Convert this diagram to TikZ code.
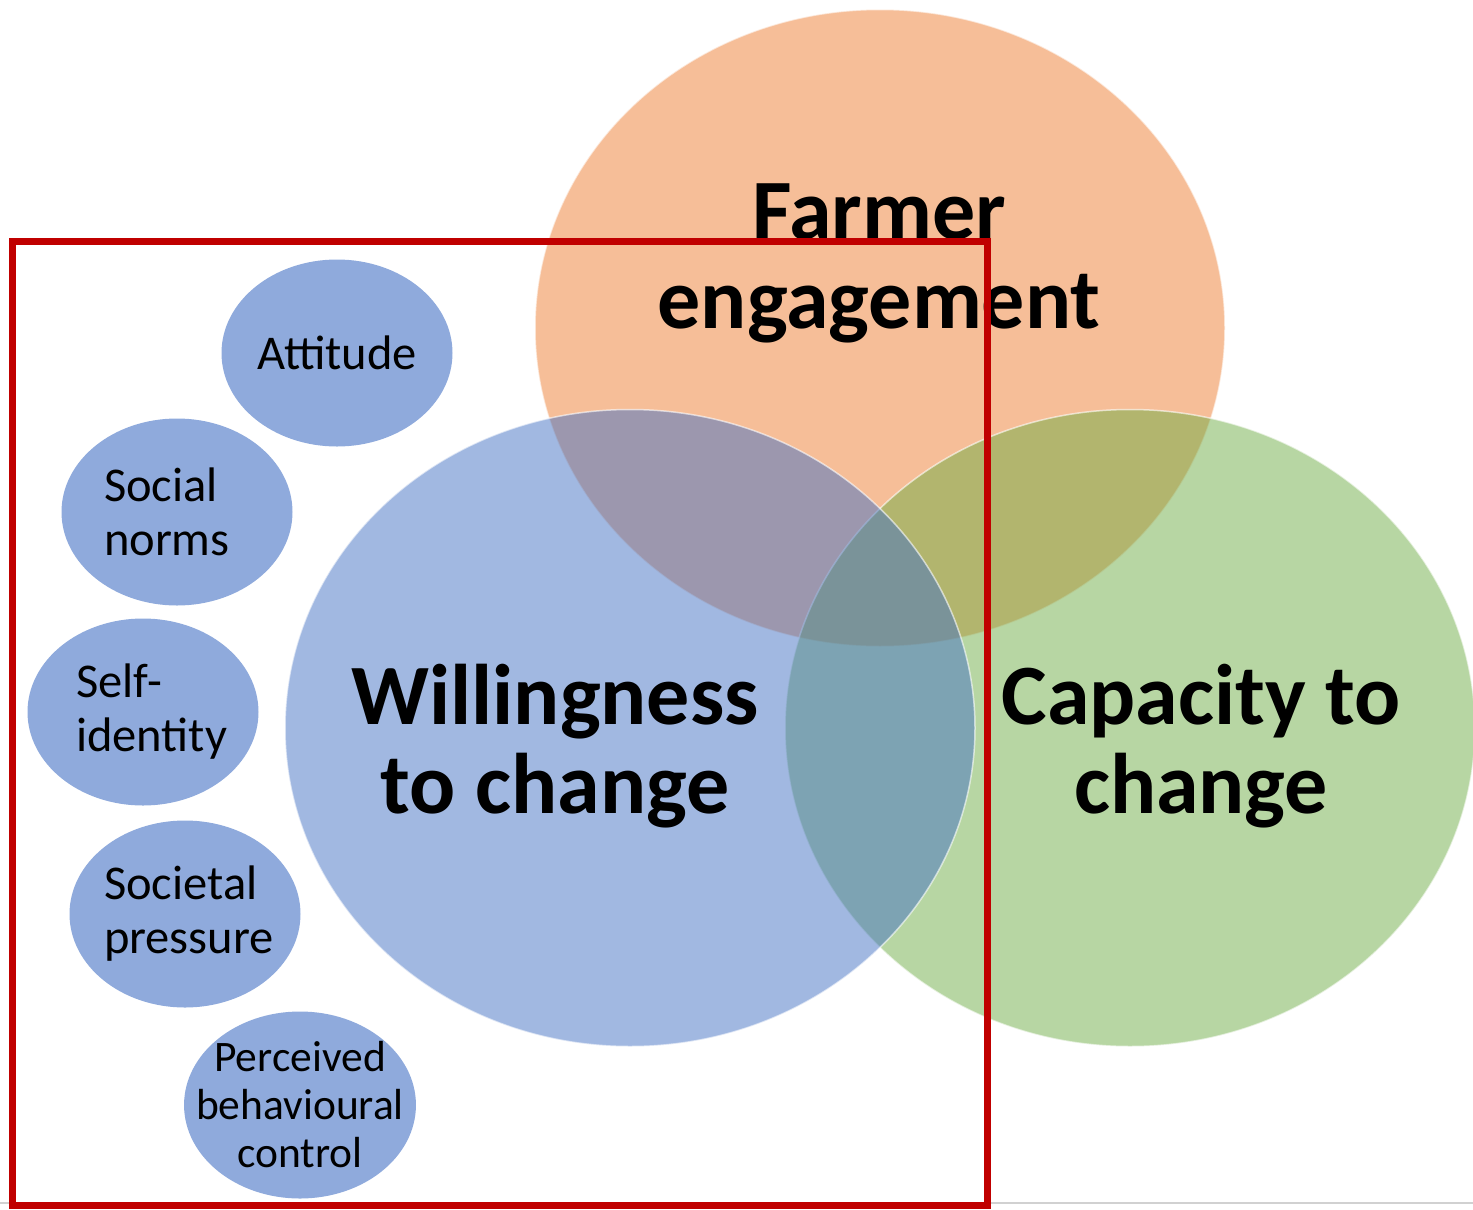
\documentclass[tikz,border=0pt]{standalone}
\usepackage{fontspec}
\setmainfont{Carlito}
\usetikzlibrary{shapes.geometric}

\definecolor{engageorange}{HTML}{ED7D31}
\definecolor{willblue}{HTML}{4472C4}
\definecolor{capgreen}{HTML}{70AD47}
\definecolor{factorblue}{HTML}{8FAADC}
\definecolor{framered}{HTML}{C00000}

\begin{document}
\begin{tikzpicture}[x=1pt, y=-1pt,
        bigset/.style={ellipse, minimum width=690pt, minimum height=637pt, inner sep=0pt,
            fill opacity=0.5, draw=white, draw opacity=0.6, line width=1.5pt},
        factor/.style={ellipse, fill=factorblue, minimum width=231pt, minimum height=187pt,
            inner sep=0pt, font=\fontsize{48.5}{54}\selectfont},
        bigtext/.style={align=center, anchor=base, font=\fontsize{86}{89}\selectfont\bfseries}]
    \useasboundingbox (0, 0) rectangle (1473, 1210);

    % the three sets
    \node[bigset, fill=engageorange] (engage) at (880, 328) {};
    \node[bigset, fill=capgreen] (capacity) at (1130, 728) {};
    \node[bigset, fill=willblue] (willing) at (630, 728) {};

    \node[bigtext] (engage-txt) at (879, 328) {Farmer\\engagement};     % base = last line
    \node[bigtext] (willing-txt) at (555, 813) {Willingness\\to change};
    \node[bigtext] (capacity-txt) at (1201, 813) {Capacity to\\change};

    % factors of willingness
    \node[factor, align=center] (attitude) at (337, 353) {Attitude};
    \node[factor, align=left, text width=146pt] (norms) at (177, 512) {Social\\norms};
    \node[factor, align=left, text width=134pt] (identity) at (143, 712) {Self-\\identity};
    \node[factor, align=left, text width=162pt] (pressure) at (185, 914) {Societal\\pressure};
    \node[factor, align=center, inner sep=-22pt, font=\fontsize{43.5}{48}\selectfont] (control) at (300, 1105) {Perceived\\behavioural\\control};

    % frame
    \draw[black!18, line width=2pt] (0, 1203) -- (1473, 1203);
    \coordinate (frame-nw) at (12, 241.5);
    \coordinate (frame-se) at (987.5, 1205);
    \draw[framered, line width=7pt] (frame-nw) rectangle (frame-se);
\end{tikzpicture}
\end{document}
